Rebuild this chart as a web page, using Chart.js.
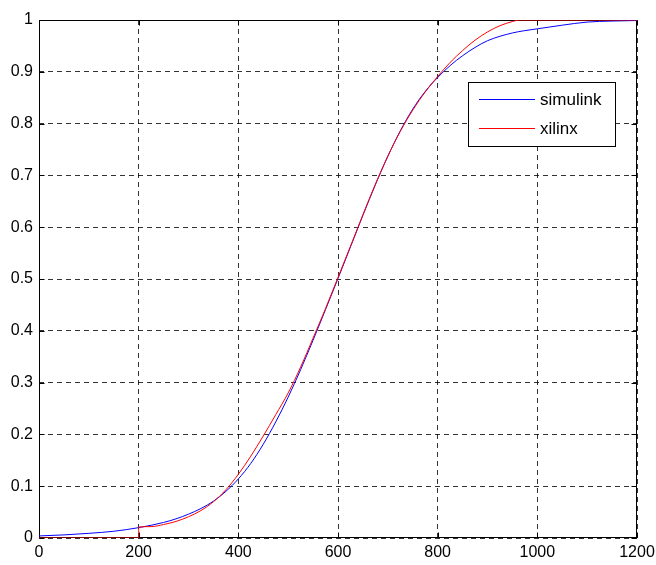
<!DOCTYPE html>
<html>
<head>
<meta charset="utf-8">
<script src="https://cdn.jsdelivr.net/npm/chart.js@4/dist/chart.umd.min.js"></script>
<style>
  html, body { margin: 0; padding: 0; background: #fff; }
  #wrap { width: 656px; height: 565px; }
</style>
</head>
<body>
<div id="wrap"><canvas id="c" width="656" height="565"></canvas></div>
<script>
// ---- data ----
const seriesNames = ["simulink", "xilinx"];

const simulinkX = [0, 50, 100, 150, 200, 250, 275, 300, 325, 350, 375, 400, 425, 450, 475, 500, 525, 550, 575, 600, 625, 650, 675, 700, 725, 750, 775, 800, 825, 850, 875, 900, 950, 1000, 1050, 1100, 1150, 1200];
const simulinkY = [0.004, 0.006, 0.009, 0.013, 0.02, 0.03, 0.037, 0.046, 0.057, 0.071, 0.09, 0.114, 0.144, 0.181, 0.224, 0.272, 0.325, 0.382, 0.441, 0.501, 0.562, 0.623, 0.682, 0.737, 0.786, 0.828, 0.862, 0.889, 0.912, 0.931, 0.947, 0.960, 0.975, 0.983, 0.990, 0.996, 0.998, 0.999];

const xilinxX = [0, 199.9, 200, 225, 250, 275, 300, 325, 350, 375, 400, 425, 450, 475, 500, 525, 550, 575, 600, 625, 650, 675, 700, 725, 750, 775, 800, 825, 850, 875, 900, 925, 950, 965, 1000, 1200];
const xilinxY = [0, 0, 0.021, 0.022, 0.026, 0.032, 0.041, 0.053, 0.07, 0.093, 0.123, 0.158, 0.197, 0.238, 0.28, 0.33, 0.386, 0.443, 0.503, 0.563, 0.624, 0.683, 0.737, 0.785, 0.826, 0.861, 0.891, 0.918, 0.941, 0.961, 0.977, 0.989, 0.997, 1.0, 1.0, 1.0];

const xTicks = [0, 200, 400, 600, 800, 1000, 1200];
const yTicks = [0, 0.1, 0.2, 0.3, 0.4, 0.5, 0.6, 0.7, 0.8, 0.9, 1];

const toPoints = (xs, ys) => xs.map((x, i) => ({ x: x, y: ys[i] }));

const FONT = "'Liberation Sans', Arial, sans-serif";

const framePlugin = {
  id: 'frame',
  beforeDatasetsDraw(chart) {
    const { ctx, chartArea: a } = chart;
    const L = Math.round(a.left) + 0.5, R = Math.round(a.right) - 0.5;
    const T = Math.round(a.top) + 0.5, B = Math.round(a.bottom) - 0.5;
    ctx.save();
    ctx.strokeStyle = '#000';
    ctx.lineWidth = 1;
    ctx.strokeRect(L, T, R - L, B - T);
    // small inward tick marks (MATLAB style)
    const xs = chart.scales.x, ys = chart.scales.y;
    ctx.beginPath();
    xTicks.forEach(v => {
      const px = Math.round(xs.getPixelForValue(v)) + 0.5;
      ctx.moveTo(px, B); ctx.lineTo(px, B - 5);
      ctx.moveTo(px, T); ctx.lineTo(px, T + 5);
    });
    yTicks.forEach(v => {
      const py = Math.round(ys.getPixelForValue(v)) + 0.5;
      ctx.moveTo(L, py); ctx.lineTo(L + 5, py);
      ctx.moveTo(R, py); ctx.lineTo(R - 5, py);
    });
    ctx.stroke();
    ctx.restore();
  },
  afterDraw(chart) {
    // legend box inside plot, MATLAB style
    const { ctx, chartArea: a } = chart;
    const ds = chart.data.datasets.slice().sort((p, q) => p.legendIndex - q.legendIndex);
    ctx.save();
    ctx.font = '17px ' + FONT;
    const boxRight = Math.round(a.right) - 22;
    const boxTop = Math.round(a.top) + 62;
    const boxW = 147, boxH = 64;
    const boxLeft = boxRight - boxW;
    ctx.fillStyle = '#fff';
    ctx.fillRect(boxLeft, boxTop, boxW, boxH);
    ctx.strokeStyle = '#000';
    ctx.lineWidth = 1;
    ctx.strokeRect(boxLeft + 0.5, boxTop + 0.5, boxW, boxH);
    const rows = [boxTop + 17, boxTop + 46];
    ds.forEach((d, i) => {
      const y = Math.round(rows[i]) + 0.5;
      ctx.strokeStyle = d.borderColor;
      ctx.beginPath();
      ctx.moveTo(boxLeft + 11, y);
      ctx.lineTo(boxLeft + 67, y);
      ctx.stroke();
      ctx.fillStyle = '#000';
      ctx.textBaseline = 'middle';
      ctx.textAlign = 'left';
      ctx.fillText(d.label, boxLeft + 72, y + 1);
    });
    ctx.restore();
  }
};

new Chart(document.getElementById('c'), {
  type: 'line',
  data: {
    datasets: [
      { label: seriesNames[0], legendIndex: 0, order: 2, data: toPoints(simulinkX, simulinkY), borderColor: '#0000ff', borderWidth: 1, pointRadius: 0, cubicInterpolationMode: 'monotone', fill: false },
      { label: seriesNames[1], legendIndex: 1, order: 1, data: toPoints(xilinxX, xilinxY), borderColor: '#ff0000', borderWidth: 1, pointRadius: 0, cubicInterpolationMode: 'monotone', fill: false }
    ]
  },
  options: {
    responsive: false,
    animation: false,
    events: [],
    layout: { padding: { left: 0, right: 19, top: 20, bottom: 0 } },
    plugins: { legend: { display: false }, tooltip: { enabled: false }, title: { display: false } },
    scales: {
      x: {
        type: 'linear', min: 0, max: 1200,
        afterBuildTicks: s => { s.ticks = xTicks.map(v => ({ value: v })); },
        afterFit: s => { s.height = 27; s.paddingLeft = 0; s.paddingRight = 0; },
        grid: { color: 'rgba(0,0,0,0.8)', lineWidth: 1, drawTicks: false },
        border: { display: false, dash: [5, 4] },
        ticks: { color: '#000', font: { family: FONT, size: 16 }, padding: 5, maxRotation: 0, callback: v => String(v) }
      },
      y: {
        type: 'linear', min: 0, max: 1,
        afterBuildTicks: s => { s.ticks = yTicks.map(v => ({ value: v })); },
        afterFit: s => { s.width = 39; s.paddingTop = 0; s.paddingBottom = 0; },
        grid: { color: 'rgba(0,0,0,0.8)', lineWidth: 1, drawTicks: false },
        border: { display: false, dash: [5, 4] },
        ticks: { color: '#000', font: { family: FONT, size: 16 }, padding: 6, callback: v => String(Math.round(v * 10) / 10) }
      }
    }
  },
  plugins: [framePlugin]
});
</script>
</body>
</html>
